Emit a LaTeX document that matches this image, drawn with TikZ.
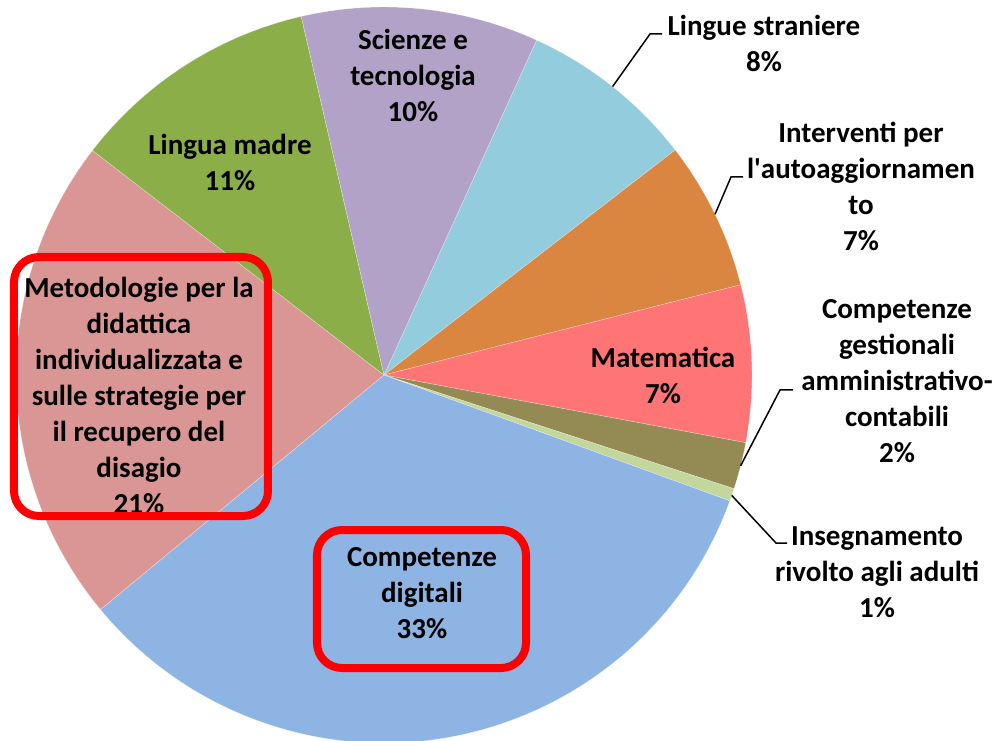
\documentclass[tikz,border=0pt]{standalone}
\usepackage{fontspec}
\setmainfont{Carlito}
\usepackage{tikz}
\usetikzlibrary{positioning}

\definecolor{straniere}{HTML}{93CDDD}
\definecolor{interventi}{HTML}{DA8540}
\definecolor{matematica}{HTML}{FF7575}
\definecolor{gestionali}{HTML}{948A54}
\definecolor{adulti}{HTML}{C3D69B}
\definecolor{digitali}{HTML}{8EB4E3}
\definecolor{metodologie}{HTML}{D99694}
\definecolor{madre}{HTML}{8CAE48}
\definecolor{scienze}{HTML}{B3A2C7}

\begin{document}
\begin{tikzpicture}[x=1pt, y=1pt,
	lbl/.style={align=center, font=\fontsize{29}{36}\selectfont\bfseries},
	slice/.style={draw=white, draw opacity=0.5, line width=0.4pt},
	leader/.style={draw=black, line width=1.5pt},
	hl/.style={draw=red, line width=8pt, rounded corners=25pt}]
	\useasboundingbox (-384,-366) rectangle (614,375);
	
	% slices, clockwise from the top
	\filldraw[slice, fill=straniere] (0,0) -- (65.5:368) arc (65.5:37.7:368) -- cycle;
	\filldraw[slice, fill=interventi] (0,0) -- (37.7:368) arc (37.7:14.2:368) -- cycle;
	\filldraw[slice, fill=matematica] (0,0) -- (14.2:368) arc (14.2:-10.6:368) -- cycle;
	\filldraw[slice, fill=gestionali] (0,0) -- (-10.6:368) arc (-10.6:-18:368) -- cycle;
	\filldraw[slice, fill=adulti] (0,0) -- (-18:368) arc (-18:-20:368) -- cycle;
	\filldraw[slice, fill=digitali] (0,0) -- (-20:368) arc (-20:-140.4:368) -- cycle;
	\filldraw[slice, fill=metodologie] (0,0) -- (-140.4:368) arc (-140.4:-217.6:368) -- cycle;
	\filldraw[slice, fill=madre] (0,0) -- (-217.6:368) arc (-217.6:-257:368) -- cycle;
	\filldraw[slice, fill=scienze] (0,0) -- (-257:368) arc (-257:-294.5:368) -- cycle;
	
	% labels inside
	\node[lbl] (scienze) at (29,300) {Scienze e\\tecnologia\\10\%};
	\node[lbl] (madre) at (-154,213) {Lingua madre\\11\%};
	\node[lbl] (matematica) at (279,0) {Matematica\\7\%};
	\node[lbl] (digitali) at (38,-218) {Competenze\\digitali\\33\%};
	\node[lbl] (metodologie) at (-245,-20) {Metodologie per la\\didattica\\individualizzata e\\sulle strategie per\\il recupero del\\disagio\\21\%};
	
	% labels outside
	\node[lbl] (straniere) at (380,332) {Lingue straniere\\8\%};
	\node[lbl] (interventi) at (477,189) {Interventi per\\l\textquotesingle autoaggiornamen\\to\\7\%};
	\node[lbl] (gestionali) at (513,-6) {Competenze\\gestionali\\amministrativo-\\contabili\\2\%};
	\node[lbl] (adulti) at (493,-197) {Insegnamento\\rivolto agli adulti\\1\%};
	
	% leader lines
	\coordinate (straniereEdge) at (51.6:368);
	\coordinate (straniereBend) at (266,341);
	\coordinate (straniereEnd) at (278,341);
	\coordinate (interventiEdge) at (25.9:368);
	\coordinate (interventiBend) at (347,198);
	\coordinate (interventiEnd) at (359,198);
	\coordinate (gestionaliEdge) at (-14.3:368);
	\coordinate (gestionaliBend) at (396,-15);
	\coordinate (gestionaliEnd) at (409,-15);
	\coordinate (adultiEdge) at (-19.1:368);
	\coordinate (adultiBend) at (392,-168);
	\coordinate (adultiEnd) at (403,-168);
	\draw[leader] (straniereEdge) -- (straniereBend) -- (straniereEnd);
	\draw[leader] (interventiEdge) -- (interventiBend) -- (interventiEnd);
	\draw[leader] (gestionaliEdge) -- (gestionaliBend) -- (gestionaliEnd);
	\draw[leader] (adultiEdge) -- (adultiBend) -- (adultiEnd);
	
	% red frames
	\draw[hl] (-67,-155) rectangle (142,-293);
	\draw[hl] (-370,118) rectangle (-116,-141);
\end{tikzpicture}
\end{document}
